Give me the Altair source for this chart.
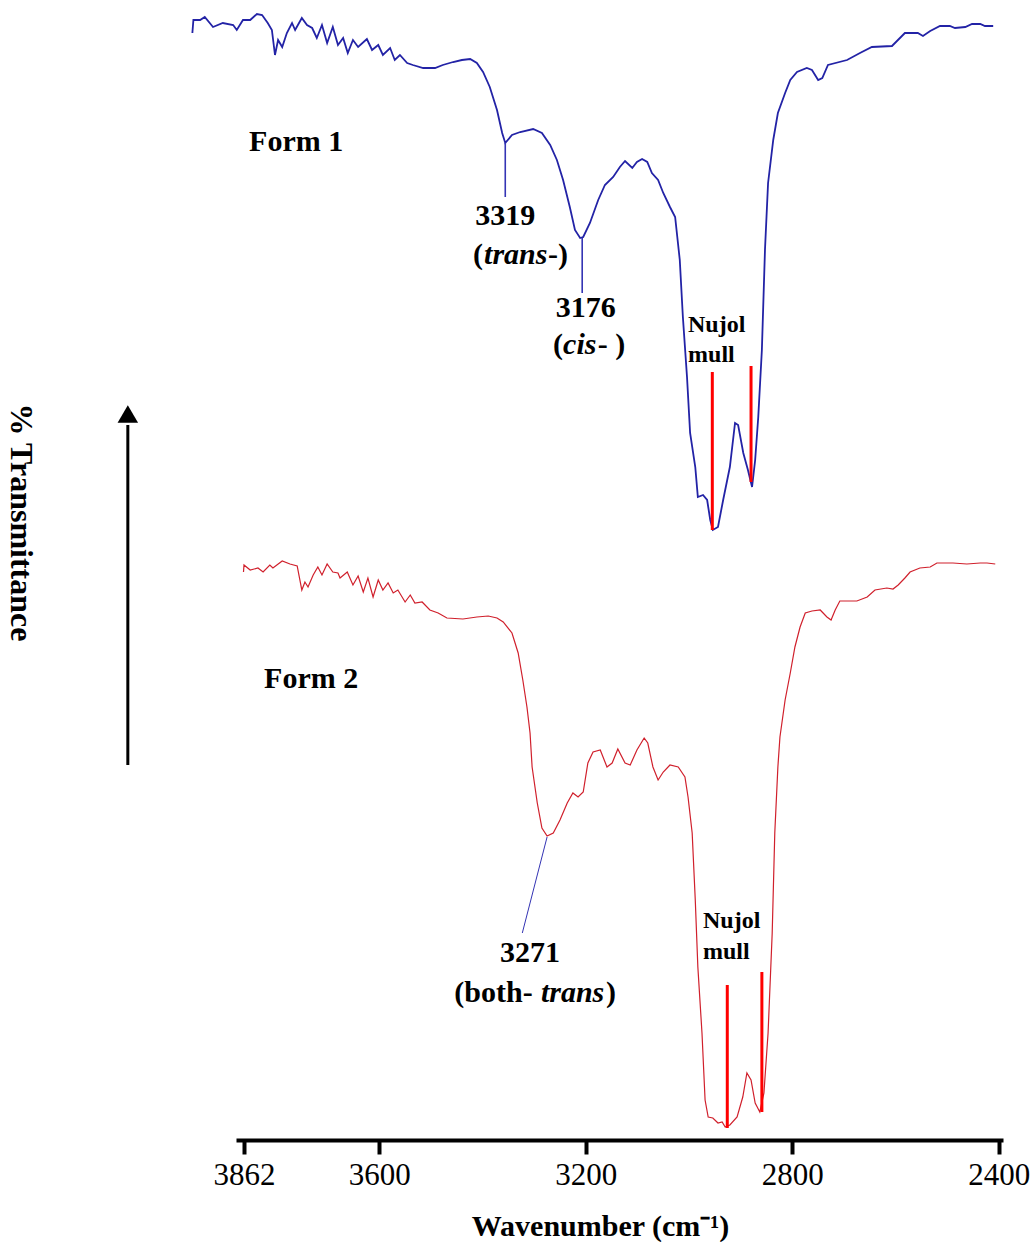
import altair as alt
import pandas as pd

# ---------------- data ----------------
# Form 1 spectrum (wavenumber cm-1, arbitrary stacked %T)
f1_wn = [3962, 3960, 3947, 3938, 3922, 3903, 3883, 3876, 3864, 3850, 3837, 3827, 3816, 3808,
         3802, 3796, 3788, 3779, 3769, 3763, 3750, 3740, 3730, 3721, 3711, 3701, 3690, 3680,
         3670, 3661, 3651, 3641, 3624, 3614, 3602, 3593, 3579, 3570, 3560, 3546, 3535, 3515,
         3492, 3477, 3457, 3440, 3424, 3411, 3399, 3386, 3372, 3362, 3356, 3343, 3327, 3302,
         3285, 3269, 3256, 3244, 3231, 3221, 3211, 3205, 3192, 3176, 3163, 3147, 3134, 3124,
         3110, 3101, 3091, 3081, 3072, 3060, 3050, 3037, 3027, 3018, 3012, 3004, 2998, 2988,
         2983, 2973, 2965, 2959, 2954, 2944, 2934, 2921, 2911, 2905, 2895, 2886, 2878, 2872,
         2866, 2859, 2853, 2847, 2837, 2828, 2814, 2804, 2791, 2772, 2762, 2750, 2742, 2731,
         2694, 2669, 2646, 2607, 2582, 2557, 2547, 2533, 2514, 2495, 2485, 2465, 2452, 2436,
         2427, 2411]
f1_t = [110.7, 112.0, 112.0, 112.3, 111.3, 111.7, 111.5, 111.0, 112.0, 112.0, 112.6, 112.5, 111.7, 111.0,
        108.5, 110.0, 109.3, 110.7, 111.7, 111.0, 112.2, 111.5, 111.2, 110.2, 111.5, 109.7, 111.3, 109.5,
        110.2, 108.7, 110.0, 109.3, 110.1, 109.0, 109.5, 108.5, 109.2, 108.0, 108.5, 107.7, 107.5, 107.2,
        107.2, 107.5, 107.8, 108.0, 108.1, 107.7, 106.8, 105.3, 103.0, 100.7, 99.7, 100.5, 100.8, 101.1,
        100.7, 99.5, 98.0, 96.0, 93.3, 91.0, 90.2, 90.3, 91.7, 94.0, 95.5, 96.3, 97.3, 97.9,
        97.2, 97.8, 98.1, 97.8, 96.7, 96.0, 94.7, 93.3, 92.3, 88.0, 82.3, 76.3, 70.7, 67.3,
        64.3, 64.5, 64.0, 62.0, 61.0, 61.3, 64.0, 67.3, 71.7, 71.5, 68.7, 67.0, 65.3, 68.0,
        72.3, 79.0, 89.0, 95.7, 100.0, 102.7, 104.7, 106.0, 106.8, 107.2, 107.0, 106.0, 106.2, 107.5,
        108.0, 108.7, 109.3, 109.4, 110.7, 110.7, 110.4, 110.9, 111.4, 111.4, 111.2, 111.3, 111.6, 111.6,
        111.4, 111.4]

# Form 2 spectrum
f2_wn = [3863, 3862, 3850, 3835, 3825, 3812, 3806, 3788, 3773, 3759, 3750, 3744, 3738, 3728,
         3719, 3711, 3701, 3690, 3680, 3676, 3662, 3651, 3641, 3631, 3622, 3612, 3602, 3593,
         3583, 3573, 3564, 3550, 3540, 3531, 3517, 3502, 3486, 3469, 3438, 3411, 3389, 3372,
         3360, 3343, 3331, 3322, 3314, 3308, 3304, 3294, 3285, 3275, 3263, 3250, 3236, 3225,
         3215, 3205, 3196, 3186, 3172, 3159, 3149, 3138, 3124, 3114, 3101, 3087, 3080, 3070,
         3060, 3050, 3037, 3021, 3008, 3002, 2994, 2988, 2983, 2975, 2969, 2963, 2954, 2944,
         2936, 2930, 2921, 2907, 2896, 2888, 2880, 2872, 2863, 2855, 2847, 2839, 2834, 2828,
         2824, 2814, 2804, 2795, 2785, 2775, 2762, 2746, 2733, 2725, 2717, 2708, 2675, 2655,
         2640, 2617, 2605, 2595, 2582, 2572, 2553, 2533, 2520, 2489, 2462, 2436, 2423, 2407]
f2_t = [56.8, 57.5, 57.0, 57.2, 56.8, 57.5, 57.2, 57.9, 57.6, 57.4, 55.0, 55.8, 55.3, 56.5,
        57.3, 56.5, 57.6, 56.8, 56.7, 56.2, 56.8, 55.5, 56.4, 54.8, 56.2, 54.3, 56.0, 55.0,
        55.7, 54.7, 55.0, 53.8, 54.5, 53.7, 53.8, 53.0, 52.7, 52.2, 52.1, 52.3, 52.4, 52.2,
        51.8, 50.7, 48.7, 46.0, 43.3, 40.7, 37.3, 33.7, 31.2, 30.4, 30.7, 32.0, 33.7, 34.7,
        34.3, 34.8, 37.7, 38.8, 39.0, 37.3, 37.7, 39.1, 37.7, 37.5, 39.0, 40.2, 39.7, 37.3,
        36.0, 36.8, 37.5, 37.3, 36.3, 34.3, 30.7, 24.0, 17.3, 10.7, 4.0, 2.3, 2.2, 1.7,
        1.8, 1.3, 1.5, 2.3, 4.3, 6.7, 6.0, 3.7, 2.8, 4.7, 10.7, 20.7, 30.7, 37.3,
        40.3, 44.0, 46.7, 49.3, 51.3, 52.7, 52.9, 53.0, 52.3, 52.0, 53.0, 53.9, 53.9, 54.3,
        55.0, 55.2, 55.1, 55.5, 56.2, 56.8, 57.2, 57.3, 57.7, 57.7, 57.6, 57.7, 57.7, 57.6]

tick_values = [3862, 3600, 3200, 2800, 2400]
x_domain = [2392, 3877.5]
y_domain = [0, 114]

# peak marker lines (blue) : x, y, x2, y2
peak_x = [3356, 3207, 3275]
peak_y = [99.7, 90.2, 30.3]
peak_x2 = [3356, 3207, 3323]
peak_y2 = [94.3, 84.7, 20.7]
peak_w = [1.6, 1.6, 1.0]

# Nujol mull markers (red)
nujol_x = [2955, 2880, 2926, 2859]
nujol_y = [76.8, 77.4, 15.5, 16.8]
nujol_y2 = [61.0, 65.8, 1.2, 2.8]

# labels
big_text = ["Form 1", "Form 2", "3319", "3176", "3271"]
big_x = [3761, 3732, 3356, 3200, 3308]
big_y = [99.8, 46.1, 92.4, 83.2, 18.7]

# upright pieces of mixed-style labels (right aligned / left aligned)
right_text = ["(", "(", "(both-"]
right_x = [3399, 3244, 3303]
right_y = [88.5, 79.5, 14.7]
italic_text = ["trans", "cis", "trans"]
italic_x = [3397, 3244, 3287]
italic_y = [88.5, 79.5, 14.7]
left_text = ["-)", "- )", ")"]
left_x = [3273, 3177, 3161]
left_y = [88.5, 79.5, 14.7]

nujol_text = ["Nujol", "mull", "Nujol", "mull"]
nujol_tx = [3002, 3002, 2973, 2973]
nujol_ty = [81.5, 78.5, 21.9, 18.8]

arrow_x = [4087]
arrow_y = [37.5]
arrow_y2 = [71.5]
arrow_head_y = [72.6]

FONT = "Liberation Serif"

# ---------------- chart ----------------
xs = alt.Scale(domain=x_domain, reverse=True, nice=False, zero=False)
ys = alt.Scale(domain=y_domain, nice=False, zero=False)

x_axis = alt.Axis(values=tick_values, format="d", grid=False, domainWidth=4, domainColor="black",
                  tickWidth=4, tickColor="black", tickSize=14, labelFont=FONT, labelFontSize=31,
                  labelColor="black", labelPadding=6, labelFlush=False,
                  title="Wavenumber (cm\u207b\u00b9)", titleFont=FONT, titleFontSize=30,
                  titleFontWeight="bold", titleColor="black", titleBaseline="middle",
                  titleX=364, titleY=86)
y_axis = alt.Axis(domain=False, ticks=False, labels=False, grid=False,
                  title="% Transmittance", titleFont=FONT, titleFontSize=32, titleFontWeight="bold",
                  titleColor="black", titleAngle=90, titleAlign="center", titleBaseline="middle",
                  titleX=-216, titleY=522)

d1 = pd.DataFrame({"wn": f1_wn, "t": f1_t, "i": range(len(f1_wn))})
d2 = pd.DataFrame({"wn": f2_wn, "t": f2_t, "i": range(len(f2_wn))})

line1 = alt.Chart(d1).mark_line(color="#2323a6", strokeWidth=1.8).encode(
    x=alt.X("wn:Q", scale=xs, axis=x_axis),
    y=alt.Y("t:Q", scale=ys, axis=y_axis),
    order="i:Q")
line2 = alt.Chart(d2).mark_line(color="#d0202c", strokeWidth=1.2).encode(
    x=alt.X("wn:Q", scale=xs), y=alt.Y("t:Q", scale=ys), order="i:Q")

peaks = alt.Chart(pd.DataFrame({"x": peak_x, "y": peak_y, "x2": peak_x2, "y2": peak_y2, "w": peak_w})).mark_rule(
    color="#3434b4").encode(
    x=alt.X("x:Q", scale=xs), y=alt.Y("y:Q", scale=ys), x2="x2:Q", y2="y2:Q",
    strokeWidth=alt.StrokeWidth("w:Q", scale=None))

nujol = alt.Chart(pd.DataFrame({"x": nujol_x, "y": nujol_y, "y2": nujol_y2})).mark_rule(
    color="#ff0000", strokeWidth=3).encode(
    x=alt.X("x:Q", scale=xs), y=alt.Y("y:Q", scale=ys), y2="y2:Q")

big = alt.Chart(pd.DataFrame({"s": big_text, "x": big_x, "y": big_y})).mark_text(
    font=FONT, fontSize=30, fontWeight="bold", color="black", align="center", baseline="middle").encode(
    x=alt.X("x:Q", scale=xs), y=alt.Y("y:Q", scale=ys), text="s:N")

rtxt = alt.Chart(pd.DataFrame({"s": right_text, "x": right_x, "y": right_y})).mark_text(
    font=FONT, fontSize=30, fontWeight="bold", color="black", align="right", baseline="middle").encode(
    x=alt.X("x:Q", scale=xs), y=alt.Y("y:Q", scale=ys), text="s:N")

itxt = alt.Chart(pd.DataFrame({"s": italic_text, "x": italic_x, "y": italic_y})).mark_text(
    font=FONT, fontSize=30, fontWeight="bold", fontStyle="italic", color="black", align="left",
    baseline="middle").encode(
    x=alt.X("x:Q", scale=xs), y=alt.Y("y:Q", scale=ys), text="s:N")

ltxt = alt.Chart(pd.DataFrame({"s": left_text, "x": left_x, "y": left_y})).mark_text(
    font=FONT, fontSize=30, fontWeight="bold", color="black", align="left", baseline="middle").encode(
    x=alt.X("x:Q", scale=xs), y=alt.Y("y:Q", scale=ys), text="s:N")

ntxt = alt.Chart(pd.DataFrame({"s": nujol_text, "x": nujol_tx, "y": nujol_ty})).mark_text(
    font=FONT, fontSize=24, fontWeight="bold", color="black", align="left", baseline="middle").encode(
    x=alt.X("x:Q", scale=xs), y=alt.Y("y:Q", scale=ys), text="s:N")

arrow = alt.Chart(pd.DataFrame({"x": arrow_x, "y": arrow_y, "y2": arrow_y2})).mark_rule(
    color="black", strokeWidth=3).encode(
    x=alt.X("x:Q", scale=xs), y=alt.Y("y:Q", scale=ys), y2="y2:Q")
head = alt.Chart(pd.DataFrame({"x": arrow_x, "y": arrow_head_y})).mark_point(
    shape="triangle-up", filled=True, color="black", size=420, opacity=1).encode(
    x=alt.X("x:Q", scale=xs), y=alt.Y("y:Q", scale=ys))

chart = alt.layer(line1, line2, peaks, nujol, big, rtxt, itxt, ltxt, ntxt, arrow, head).properties(
    width=767, height=1140,
    autosize=alt.AutoSizeParams(type="none"),
    padding={"left": 236, "top": 0, "right": 30, "bottom": 102},
    background="white",
).configure_view(stroke=None)

chart.save("out.html", embed_options={"renderer": "svg", "actions": False})
